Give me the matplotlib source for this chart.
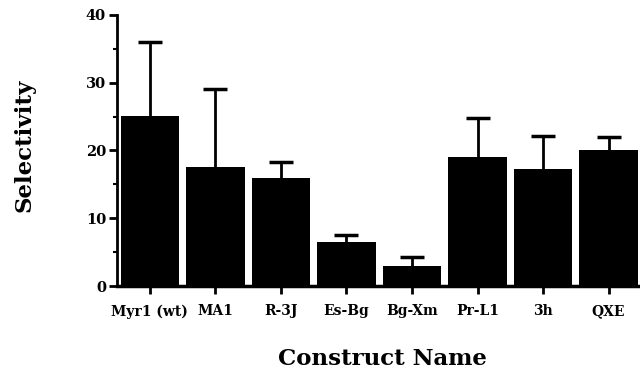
import numpy as np
import matplotlib.pyplot as plt

# construct names and selectivity
constructs = ["Myr1 (wt)", "MA1", "R-3J", "Es-Bg", "Bg-Xm", "Pr-L1", "3h", "QXE"]
selectivity = [25.1, 17.6, 15.9, 6.5, 3.0, 19.1, 17.3, 20.1]
err_upper = [10.9, 11.5, 2.4, 1.0, 1.3, 5.7, 4.8, 1.9]

plt.rcParams['font.family'] = ['DejaVu Serif']
plt.rcParams['font.weight'] = 'bold'

fig = plt.figure(figsize=(6.4, 3.72), dpi=100)
ax = fig.add_axes([0.183, 0.231, 0.814, 0.729])

x = np.arange(len(constructs))
yerr = [np.zeros(len(err_upper)), err_upper]
ax.bar(x, selectivity, width=0.89, color='black', zorder=2)
_, caps, _ = ax.errorbar(x, selectivity, yerr=yerr, fmt='none', ecolor='black',
                         elinewidth=2, capsize=8.5, capthick=2.5, zorder=1)
caps[0].set_visible(False)  # only the top cap

ax.set_xlim(-0.5, 7.45)
ax.set_ylim(0, 40)
ax.set_yticks([0, 10, 20, 30, 40])
ax.set_yticks([5, 15, 25, 35], minor=True)
ax.set_xticks(x)
ax.set_xticklabels(constructs, fontsize=10, fontweight='bold')
for lab in ax.get_yticklabels():
    lab.set_fontsize(10.5)
    lab.set_fontweight('bold')

ax.spines['top'].set_visible(False)
ax.spines['right'].set_visible(False)
ax.spines['left'].set_linewidth(2)
ax.spines['bottom'].set_linewidth(2.5)
ax.tick_params(axis='y', which='major', length=6, width=2, pad=2)
ax.tick_params(axis='y', which='minor', length=3, width=1.5)
ax.tick_params(axis='x', length=6, width=2, pad=7)

ax.set_ylabel("Selectivity", fontsize=16.5, fontweight='bold')
ax.set_xlabel("Construct Name", fontsize=16.5, fontweight='bold')
ax.yaxis.set_label_coords(-0.157, 0.52)
ax.xaxis.set_label_coords(0.51, -0.23)

fig.savefig("out.png", dpi=100)
